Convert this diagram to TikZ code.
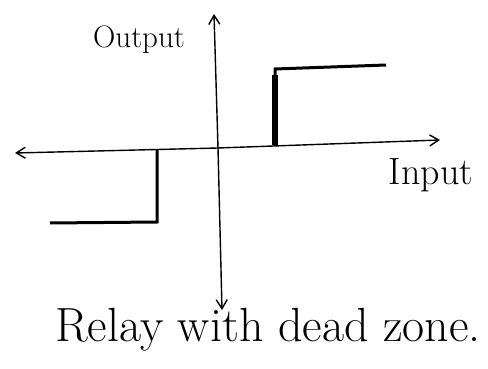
\documentclass[tikz,border=0pt]{standalone}
\usepackage{fontspec}
\setmainfont{Latin Modern Roman}
\usetikzlibrary{arrows.meta}
\begin{document}
\begin{tikzpicture}[x=1pt,y=-1pt,
  axis/.style={line width=1.4pt,-{Straight Barb[length=9pt,width=11pt,line width=1.4pt]}},
  relay/.style={line width=3pt,line join=miter},
  lbl/.style={inner sep=0pt,font=\fontsize{31}{34}\selectfont}]
\useasboundingbox (0,0) rectangle (488,369);
\coordinate (o) at (218,148);
\coordinate (xr) at (440,140);
\coordinate (xl) at (15,153);
\coordinate (yt) at (214,14);
\coordinate (yb) at (222,310);
\draw[axis] (o) -- (xr);
\draw[axis] (o) -- (xl);
\draw[axis] (o) -- (yt);
\draw[axis] (o) -- (yb);
% upper relay branch
\coordinate (u0) at (275,146);
\coordinate (u1) at (275,69);
\coordinate (u2) at (386,65);
\draw[relay] (u0) -- (u1) -- (u2);
\fill (272,145) rectangle (278,75);
% lower relay branch
\coordinate (l0) at (157,150);
\coordinate (l1) at (157,222);
\coordinate (l2) at (50,223);
\draw[relay] (l0) -- (l1) -- (l2);
\node[lbl] (out) at (139,40) {Output};
\node[lbl,font=\fontsize{38}{42}\selectfont] (in) at (431,175) {Input};
\node[lbl,font=\fontsize{48}{54}\selectfont] (cap) at (268,330) {Relay with dead zone.};
\end{tikzpicture}
\end{document}
